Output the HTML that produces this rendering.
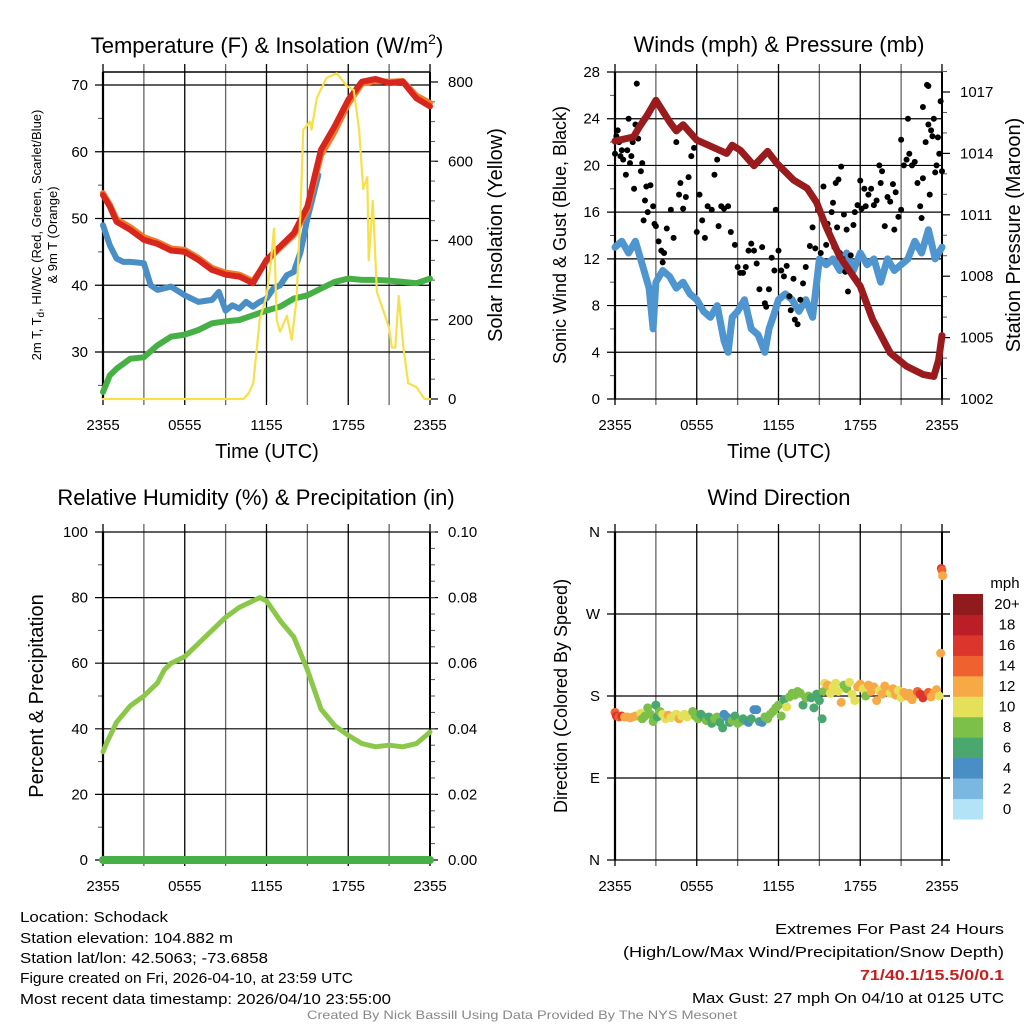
<!DOCTYPE html>
<html><head><meta charset="utf-8"><style>
html,body{margin:0;padding:0;background:#fff;}
svg{display:block;font-family:"Liberation Sans",sans-serif;}
</style></head><body>
<svg id="chart" width="1024" height="1024" viewBox="0 0 1024 1024" xmlns="http://www.w3.org/2000/svg">
<rect width="1024" height="1024" fill="#fff"/>
<g id="layer"></g>
<text x="267" y="53" font-size="22" text-anchor="middle">Temperature (F) &amp; Insolation (W/m<tspan dy="-9" font-size="14">2</tspan><tspan dy="9">)</tspan></text>
<text x="779" y="52" font-size="22" text-anchor="middle">Winds (mph) &amp; Pressure (mb)</text>
<text x="256" y="505" font-size="22" text-anchor="middle">Relative Humidity (%) &amp; Precipitation (in)</text>
<text x="779" y="505" font-size="22" text-anchor="middle">Wind Direction</text>
<g font-size="13" text-anchor="middle">
<text transform="translate(41,235) rotate(-90)">2m T, T<tspan font-size="10" dy="3">d</tspan><tspan dy="-3">, HI/WC (Red, Green, Scarlet/Blue)</tspan></text>
<text transform="translate(57,235) rotate(-90)">&amp; 9m T (Orange)</text>
</g>
<text transform="translate(502,235) rotate(-90)" font-size="20" text-anchor="middle">Solar Insolation (Yellow)</text>
<text transform="translate(566,235) rotate(-90)" font-size="18" text-anchor="middle">Sonic Wind &amp; Gust (Blue, Black)</text>
<text transform="translate(1020,235) rotate(-90)" font-size="20" text-anchor="middle">Station Pressure (Maroon)</text>
<text transform="translate(43,696) rotate(-90)" font-size="20" text-anchor="middle">Percent &amp; Precipitation</text>
<text transform="translate(567,696) rotate(-90)" font-size="18" text-anchor="middle">Direction (Colored By Speed)</text>
<text x="267" y="458" font-size="20" text-anchor="middle">Time (UTC)</text>
<text x="779" y="458" font-size="20" text-anchor="middle">Time (UTC)</text>
<g font-size="15">
<text x="20" y="922" textLength="148" lengthAdjust="spacingAndGlyphs">Location: Schodack</text>
<text x="20" y="943" textLength="213" lengthAdjust="spacingAndGlyphs">Station elevation: 104.882 m</text>
<text x="20" y="963" textLength="248" lengthAdjust="spacingAndGlyphs">Station lat/lon: 42.5063; -73.6858</text>
<text x="20" y="983" textLength="333" lengthAdjust="spacingAndGlyphs">Figure created on Fri, 2026-04-10, at 23:59 UTC</text>
<text x="20" y="1004" textLength="371" lengthAdjust="spacingAndGlyphs">Most recent data timestamp: 2026/04/10 23:55:00</text>
</g>
<g font-size="15">
<text x="775" y="934" textLength="229" lengthAdjust="spacingAndGlyphs">Extremes For Past 24 Hours</text>
<text x="623" y="957" textLength="381" lengthAdjust="spacingAndGlyphs">(High/Low/Max Wind/Precipitation/Snow Depth)</text>
<text x="860" y="980" textLength="144" lengthAdjust="spacingAndGlyphs" fill="#c81e1e" font-weight="bold">71/40.1/15.5/0/0.1</text>
<text x="692" y="1003" textLength="312" lengthAdjust="spacingAndGlyphs">Max Gust: 27 mph On 04/10 at 0125 UTC</text>
</g>
<text x="307" y="1019" font-size="12" fill="#888" textLength="430" lengthAdjust="spacingAndGlyphs">Created By Nick Bassill Using Data Provided By The NYS Mesonet</text>
</svg>
<script>
// ---- data (hours since 2355 UTC) ----
const xTickLabels = ["2355","0555","1155","1755","2355"];
const tempHours = [0,0.5,1,2,3,4,5,6,7,8,9,10,11,12,13,14,15,16,17,18,19,20,21,22,23,24];
const tempValues = [53.5,51.8,49.5,48.3,46.8,46.2,45.2,45,43.8,42.3,41.6,41.3,40.3,43.8,45.8,47.8,51.8,60.3,63.8,67.8,70.5,70.9,70.3,70.5,68,66.8];
const temp9mValues = [53.8,52.1,49.9,48.7,47.2,46.5,45.5,45.3,44.1,42.6,41.9,41.6,40.6,43.6,45.6,47.5,51.3,59.5,63,67.2,70.2,70.6,70.5,70.6,68.4,67.3];
const hiwcHours = [0,0.5,1,1.5,2,3,3.5,4,5,6,7,8,8.5,9,9.5,10,10.5,11,11.5,12,12.5,13,13.5,14,14.5,15,15.5,15.8];
const hiwcValues = [49,46,44,43.5,43.5,43.3,40,39.3,39.8,38.5,37.5,37.8,39,36.2,37,36.5,37.5,36.8,37.5,38,39.5,40,41.5,42,45,50,54,56.5];
const dewHours = [0,0.5,1,2,3,4,5,6,7,8,9,10,11,12,13,14,15,16,17,18,19,20,21,22,23,24];
const dewValues = [24,26.5,27.5,29,29.2,31,32.3,32.6,33.3,34.3,34.6,34.8,35.5,36.2,36.8,38,38.5,39.5,40.5,41,40.8,40.8,40.7,40.5,40.3,41];
const solarHours = [0,10.3,10.7,11.03,11.5,12,12.3,12.55,12.75,13,13.5,13.85,14.2,14.5,14.7,15.2,15.3,15.7,16.4,17.15,17.9,18.4,18.8,19.1,19.4,19.5,19.8,20.1,20.6,21,21.2,21.45,21.7,22.05,22.4,23,23.6,24];
const solarValues = [0,0,15,40,200,260,340,430,200,170,210,150,250,480,680,700,680,760,810,822,790,780,680,530,560,350,500,270,220,180,130,130,260,130,40,30,0,0];
const windHours = [0,0.5,1,1.5,2,2.5,2.8,3,3.5,4,4.5,5,5.5,6,6.5,7,7.5,8,8.3,8.6,9,9.5,10,10.5,11,11.3,11.6,12,12.5,13,13.5,14,14.5,15,15.5,16,16.5,17,17.5,18,18.5,19,19.5,20,20.5,21,21.5,22,22.5,23,23.5,24];
const windValues = [13,13.5,12.5,13.5,11.5,9.5,6,10,11,10.5,9.5,10,9,8.5,7.5,7,8,5,4,7,7.5,8.5,6,5.5,4,6,7,8.5,9,8.5,7.5,8.5,7,12,11.5,12,11,12.5,11,12.5,11.5,12,10,12,11,11.5,12,13.5,12.5,14.5,12,13];
const gustHours = [0,0.1,0.2,0.3,0.4,0.5,0.6,0.8,0.9,1.0,1.1,1.2,1.3,1.4,1.5,1.6,1.7,1.9,2.0,2.1,2.2,2.3,2.4,2.6,2.8,2.9,3.0,3.2,3.4,3.5,3.6,3.8,4.1,4.3,4.5,4.7,4.8,5.0,5.2,5.4,5.6,5.8,6.0,6.2,6.4,6.6,6.8,7.1,7.3,7.5,7.6,7.8,8.0,8.3,8.5,8.8,9.0,9.2,9.4,9.6,9.8,10.0,10.2,10.4,10.6,10.8,11.0,11.1,11.3,11.5,11.7,11.8,12.0,12.2,12.4,12.6,12.8,12.9,13.1,13.2,13.4,13.6,13.8,14.0,14.3,14.5,14.7,14.9,15.1,15.3,15.5,15.6,15.7,15.9,16.0,16.1,16.2,16.3,16.4,16.5,16.6,16.7,16.8,16.9,17.0,17.1,17.3,17.5,17.6,17.8,18.0,18.1,18.3,18.4,18.6,18.8,19.0,19.2,19.4,19.5,19.6,19.8,20.0,20.2,20.4,20.5,20.6,20.8,21.0,21.0,21.2,21.4,21.5,21.6,21.8,22.0,22.2,22.4,22.5,22.6,22.6,22.8,22.9,23.0,23.0,23.1,23.2,23.3,23.4,23.5,23.6,23.7,23.8,23.9,24.0];
const gustValues = [21,22.5,23,22,20.8,21.3,20.5,19.2,21.3,24,20.2,20.8,22,18,23.5,27,22.3,19.5,20.2,15.3,17,18.2,16,18.3,16.5,15,14.8,13.5,12.7,11.7,12.5,14.6,16.2,13.8,22,17.5,18.5,16.3,17.3,19,20.8,21.5,14.3,17.5,15.3,13.8,16.5,16.2,19.2,20.5,14.8,16.5,16.3,16.5,14.3,13.2,11.3,10.8,10.8,11.3,12.7,13.3,12.7,11.6,9.4,13,8.2,7.9,9.4,12.1,11,16.2,12.7,11,10.5,11.4,8.8,7.6,10.3,6.8,6.4,8.5,9.9,11.3,13.1,14.7,12.9,16.2,12.5,18.2,13.2,15,14.5,16,16.8,13,18.5,14.7,18.8,12.5,19.9,12,15.8,10.9,14.5,9.2,12.3,14.9,16,16.6,18.7,16.3,18,16.5,17.5,18,16.6,17,20,18.5,19.5,14.8,17.3,16.9,18.4,14.5,17.7,15.6,16.2,22.2,20,20.5,24,21,20,20.3,18.5,16.5,15.5,18.9,25,22,26.9,23.5,26.8,17.5,23,22.5,24,19.4,20,22.4,21,25.5,19.5];
const pressHours = [0,1.35,1.8,2.4,3,4.05,4.5,5,6,7.2,8.2,8.6,9.2,10.2,11.2,11.9,13.1,14.1,14.8,15.5,16.5,18,18.9,20.2,21.4,22.6,23.4,23.75,24];
const pressValues = [1014.6,1014.8,1015.3,1015.9,1016.6,1015.5,1015.1,1015.4,1014.65,1014.3,1014,1014.4,1014.15,1013.4,1014.1,1013.5,1012.7,1012.3,1011.6,1010.4,1008.95,1007.5,1005.9,1004.25,1003.6,1003.2,1003.1,1003.9,1005.1];
const rhHours = [0,0.3,1,2,3,4,4.5,5,6,7,8,9,10,11,11.5,12,12.5,13,14,15,15.5,16,17,18,19,20,21,22,23,24];
const rhValues = [33,36,42,47,50,54,58,60,62,66,70,74,77,79,80,79,76,73,68,58,52,46,41,38,35.5,34.5,35,34.5,35.5,39];
const precipHours = [0,24];
const precipValues = [0,0];
const dirHours = [0,0.1,0.3,0.5,0.7,0.9,1.1,1.3,1.5,1.7,1.9,2.0,2.2,2.4,2.6,2.8,3.0,3.1,3.3,3.5,3.7,3.9,4.1,4.3,4.5,4.7,4.9,5.1,5.3,5.5,5.7,5.9,6.1,6.3,6.5,6.7,6.9,7.1,7.3,7.5,7.7,7.9,8.0,8.2,8.4,8.6,8.8,9.0,9.2,9.4,9.6,9.8,10.0,10.2,10.4,10.6,10.8,11.0,11.2,11.4,11.6,11.8,12.0,12.2,12.4,12.6,12.8,13.0,13.2,13.4,13.6,13.8,14.0,14.2,14.4,14.6,14.8,15.0,15.2,15.3,15.4,15.6,15.8,16.0,16.2,16.4,16.6,16.8,17.0,17.2,17.4,17.6,17.8,18.0,18.2,18.4,18.6,18.8,19.0,19.2,19.4,19.6,19.8,20.0,20.2,20.4,20.6,20.8,21.0,21.2,21.4,21.6,21.8,22.0,22.2,22.4,22.6,22.8,23.0,23.2,23.4,23.6,23.8,23.9,23.95,24.0,24.05];
const dirValues = [162,158,157,158,157,157,156,157,158,158,161,155,158,167,160,152,170,157,163,160,155,159,156,158,160,155,158,160,157,159,163,158,155,160,157,153,157,150,155,157,151,145,160,157,151,153,158,150,152,155,153,151,155,165,165,152,151,157,155,160,163,167,170,158,176,168,179,183,181,185,183,170,178,180,178,167,182,175,155,185,194,192,183,190,194,185,173,192,188,195,182,175,190,193,188,180,192,185,190,175,186,182,191,186,183,188,181,186,178,184,180,183,176,181,185,182,178,181,184,179,183,187,180,227,320,318,312];
const dirSpeeds = [15,16,14,16,13,12,12,12,13,12,10,8,8,8,8,8,6,6,8,10,10,12,10,10,10,12,10,10,10,10,9,8,8,6,6,8,6,6,8,8,6,7,4,4,6,8,6,8,8,6,6,4,6,4,4,6,4,8,8,8,9,8,8,8,6,10,8,9,8,8,8,6,8,8,6,6,6,6,7,8,10,12,10,10,10,10,12,8,8,10,10,10,12,12,10,8,12,12,12,12,10,12,12,12,10,12,12,10,10,12,12,12,12,13,14,16,16,16,14,12,12,12,11,12,16,15,12];
const speedBinColors = ["#b3e3f6","#7ab8e1","#4a8ec6","#4aa76e","#7cc04a","#e5e05a","#f6a945","#ef612e","#dc352b","#bc1e27","#911a1c"];
const speedBinLabels = ["0","2","4","6","8","10","12","14","16","18","20+"];

// ---- helpers ----
const NS = "http://www.w3.org/2000/svg";
const layer = document.getElementById("layer");
function mk(tag, attrs, parent){const e=document.createElementNS(NS,tag);for(const k in attrs)e.setAttribute(k,attrs[k]);(parent||layer).appendChild(e);return e;}
function scale(d0,d1,r0,r1){return v=>r0+(v-d0)/(d1-d0)*(r1-r0);}
function pathFrom(xs,ys,fx,fy){return xs.map((h,i)=>(i?"L":"M")+fx(h).toFixed(1)+","+fy(ys[i]).toFixed(1)).join(" ");}

function frame(p){
  const g=mk("g",{});
  
  
  for(let h=0;h<=24;h+=3){
    const x=p.x(h);
    const l=mk("line",{x1:x,x2:x,y1:p.top-8,y2:p.bot+6,stroke:(h%6===0?"#000":"#666"),"stroke-width":1.3},g);
    
    
  }
  if(p.xlabels){
    xTickLabels.forEach((t,i)=>{
      const tx=mk("text",{x:p.x(i*6),y:p.bot+31,"font-size":15,"text-anchor":"middle"},g);
      tx.textContent=t;
      
      
    });
  }
  p.lTicks.forEach(v=>{
    const y=p.yl(v);
    const l=mk("line",{x1:p.x0-8,x2:p.x1+(p.rTicks?0:8),y1:y,y2:y,stroke:"#000","stroke-width":1.2},g);
    
    
    const tx=mk("text",{x:p.x0-15,y:y+5,"font-size":15,"text-anchor":"end"},g);
    tx.textContent=p.lFmt(v);
    
    
  });
  (p.lMinor||[]).forEach(v=>{const y=p.yl(v);mk("line",{x1:p.x0-5,x2:p.x0,y1:y,y2:y,stroke:"#555","stroke-width":1},g);});
  if(p.rTicks){
    p.rTicks.forEach(v=>{
      const y=p.yr(v);
      mk("line",{x1:p.x1,x2:p.x1+8,y1:y,y2:y,stroke:"#000","stroke-width":1.2},g);
      const tx=mk("text",{x:p.x1+18,y:y+5,"font-size":15},g);
      tx.textContent=p.rFmt(v);
      
      
    });
    (p.rMinor||[]).forEach(v=>{const y=p.yr(v);mk("line",{x1:p.x1,x2:p.x1+5,y1:y,y2:y,stroke:"#555","stroke-width":1},g);});
  }
  mk("line",{x1:p.x0,x2:p.x0,y1:p.top,y2:p.bot,stroke:"#000","stroke-width":2.2},g);
  mk("line",{x1:p.x1,x2:p.x1,y1:p.top,y2:p.bot,stroke:"#000","stroke-width":2},g);
  if(p.topBorder) mk("line",{x1:p.x0,x2:p.x1,y1:p.top,y2:p.top,stroke:"#000","stroke-width":1.5},g);
  return g;
}
function line(d,color,w,name){
  const e=mk("path",{d:d,fill:"none",stroke:color,"stroke-width":w,"stroke-linejoin":"round","stroke-linecap":"round"});
  
  
  return e;
}
const rng=(a,b,s)=>{const r=[];for(let v=a;v<=b+1e-9;v+=s)r.push(+v.toFixed(4));return r;};

// ---- Panel 1: temperature ----
{
  const x=scale(0,24,103,430), yl=scale(70,30,85,352), yr=scale(0,800,399,82);
  frame({name:"temperature",x,x0:103,x1:430,top:72,bot:399,yl,yr,xlabels:true,topBorder:true,
    lTicks:[30,40,50,60,70],lFmt:v=>v,lMinor:[25,35,45,55,65],
    rTicks:[0,200,400,600,800],rFmt:v=>v,rMinor:rng(50,750,50)});
  line(pathFrom(dewHours,dewValues,x,yl),"#46b046",6,"dewpoint-line");
  line(pathFrom(hiwcHours,hiwcValues,x,yl),"#4a8ec6",6,"heat-index-wind-chill-line");
  line(pathFrom(tempHours,temp9mValues,x,yl),"#f47b26",6,"temperature-9m-line");
  line(pathFrom(tempHours,tempValues,x,yl),"#d7261e",6,"temperature-2m-line");
  line(pathFrom(solarHours,solarValues,x,yr),"#f7e04a",2.2,"solar-insolation-line");
}
// ---- Panel 2: winds ----
{
  const x=scale(0,24,615,942), yl=scale(0,28,399,72), yr=scale(1002,1017,399,92);
  frame({name:"winds",x,x0:615,x1:942,top:72,bot:399,yl,yr,xlabels:true,
    lTicks:[0,4,8,12,16,20,24,28],lFmt:v=>v,lMinor:[2,6,10,14,18,22,26],
    rTicks:[1002,1005,1008,1011,1014,1017],rFmt:v=>v,rMinor:rng(1003,1018,1).filter(v=>(v-1002)%3!==0)});
  line(pathFrom(windHours,windValues,x,yl),"#4f95cf",7,"sonic-wind-line");
  const g=mk("g",{});
  
  
  gustHours.forEach((h,i)=>{
    const c=mk("circle",{cx:x(h),cy:yl(gustValues[i]),r:3,fill:"#000"},g);
    
    
  });
  line(pathFrom(pressHours,pressValues,x,yr),"#9a1b1e",7,"station-pressure-line");
}
// ---- Panel 3: humidity ----
{
  const x=scale(0,24,103,430), yl=scale(0,100,860,532), yr=scale(0,0.1,860,532);
  frame({name:"humidity",x,x0:103,x1:430,top:532,bot:860,yl,yr,xlabels:true,
    lTicks:[0,20,40,60,80,100],lFmt:v=>v,lMinor:rng(10,90,20),
    rTicks:[0,0.02,0.04,0.06,0.08,0.1],rFmt:v=>v.toFixed(2),rMinor:rng(0.005,0.1,0.005)});
  line(pathFrom(rhHours,rhValues,x,yl),"#8bc84a",5,"relative-humidity-line");
  line(pathFrom(precipHours,precipValues,x,yr),"#46b046",8,"precipitation-line");
}
// ---- Panel 4: wind direction ----
{
  const x=scale(0,24,615,942), yl=scale(0,360,860,532);
  const dirLabels=["N","E","S","W","N"];
  frame({name:"wind-direction",x,x0:615,x1:942,top:532,bot:860,yl,xlabels:true,
    lTicks:[0,90,180,270,360],lFmt:v=>dirLabels[v/90]});
  [0,90,180,270,360].forEach(v=>mk("line",{x1:942,x2:950,y1:yl(v),y2:yl(v),stroke:"#000","stroke-width":1.2}));
  const g=mk("g",{});
  
  
  dirHours.forEach((h,i)=>{
    const bin=Math.min(10,Math.floor(dirSpeeds[i]/2));
    const c=mk("circle",{cx:x(h),cy:yl(dirValues[i]),r:4.5,fill:speedBinColors[bin]},g);
    
    
  });
  const cb=mk("g",{});
  
  
  const t=mk("text",{x:1005,y:588,"font-size":15,"text-anchor":"middle"},cb);
  t.textContent="mph";
  const h=(819-594)/11;
  speedBinColors.forEach((c,i)=>{
    const y=819-(i+1)*h;
    const r=mk("rect",{x:953,y:y,width:30,height:h+0.5,fill:c},cb);
    
    
    const tx=mk("text",{x:1007,y:y+h/2+5,"font-size":15,"text-anchor":"middle"},cb);
    tx.textContent=speedBinLabels[i];
    
    
  });
}
</script>
</body></html>
